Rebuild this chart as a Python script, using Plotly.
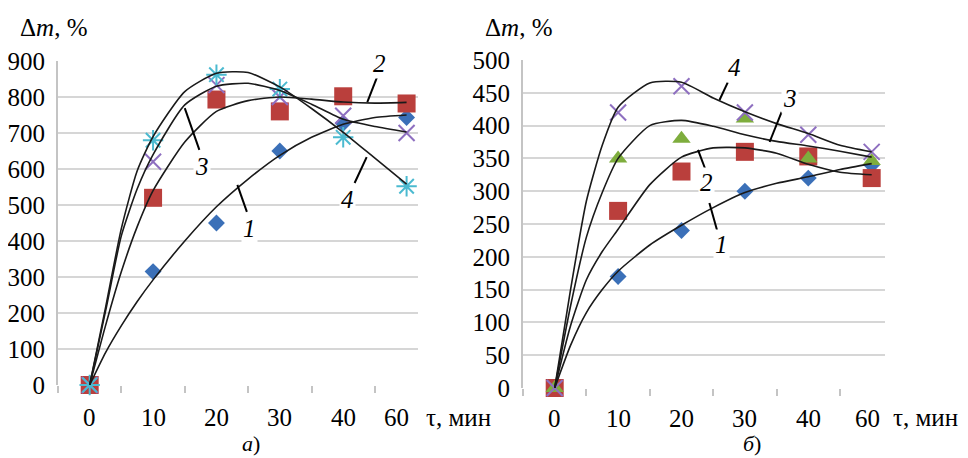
import plotly.graph_objects as go

# ---------------- data ----------------
categories = ["0", "10", "20", "30", "40", "60"]   # τ, мин (categorical axis)
cat_pos = [0, 1, 2, 3, 4, 5]

# chart а)
a_s1 = [0, 315, 450, 650, 727, 743]
a_s2 = [0, 520, 793, 760, 802, 782]
a_s3 = [0, 620, 833, 800, 748, 700]
a_s4 = [0, 680, 862, 822, 688, 552]

# chart б)
b_s1 = [0, 170, 240, 300, 320, 340]
b_s2 = [0, 270, 330, 360, 353, 320]
b_s3 = [0, 350, 380, 411, 350, 346]
b_s4 = [0, 420, 460, 420, 386, 360]

# fitted curves at fractional category positions
curve_x = [0, 0.25, 0.5, 0.75, 1.0, 1.5, 2.0, 2.5, 3.0, 3.5, 4.0, 4.5, 5.0]
a_c1 = [0, 90, 165, 232, 292, 400, 495, 572, 638, 688, 724, 743, 750]
a_c2 = [0, 165, 315, 440, 540, 675, 760, 790, 800, 794, 786, 783, 785]
a_c3 = [0, 205, 415, 545, 640, 778, 830, 838, 818, 780, 738, 718, 703]
a_c4 = [0, 215, 435, 595, 690, 815, 866, 868, 828, 768, 702, 630, 558]

b_c1 = [0, 65, 115, 150, 178, 218, 248, 275, 298, 312, 322, 333, 342]
b_c2 = [0, 95, 165, 208, 242, 310, 352, 366, 366, 358, 341, 329, 325]
b_c3 = [0, 125, 230, 298, 350, 400, 408, 399, 386, 376, 369, 361, 352]
b_c4 = [0, 150, 285, 370, 428, 465, 466, 442, 421, 403, 388, 370, 360]

curve_labels = ["1", "2", "3", "4"]

# ---------------- style ----------------
FONT = "Liberation Serif, Times New Roman, serif"
FS = 25
C_BLUE = "#3B70B8"
C_RED = "#BA3F3C"
C_PURPLE = "#8E6FC0"
C_CYAN = "#4BBAD0"
C_GREEN = "#7EAD3D"
GRID = "#D6D6D6"
AXIS = "#C4C4C4"

# the page body has an 8 px margin: figure starts at (8, 8) of the window
OFF = 8
W, H = 968 - OFF, 458 - OFF

fig = go.Figure()


def markers(x, y, sym, color, size, xa, ya, open_=False):
    m = dict(symbol=sym, size=size, color=color)
    if open_:
        m["line"] = dict(color=color, width=2)
    else:
        m["line"] = dict(width=0)
    fig.add_trace(go.Scatter(x=x, y=y, mode="markers", marker=m, xaxis=xa, yaxis=ya,
                             cliponaxis=False, showlegend=False, hoverinfo="skip"))


def curve(y, xa, ya):
    fig.add_trace(go.Scatter(x=curve_x, y=y, mode="lines",
                             line=dict(color="#1a1a1a", width=1.6, shape="spline", smoothing=0.6),
                             xaxis=xa, yaxis=ya, cliponaxis=False,
                             showlegend=False, hoverinfo="skip"))


# chart а)
markers(cat_pos, a_s1, "diamond", C_BLUE, 13, "x", "y")
markers(cat_pos, a_s2, "square", C_RED, 18, "x", "y")
markers(cat_pos, a_s3, "x-thin-open", C_PURPLE, 16, "x", "y", True)
markers(cat_pos, a_s4, "asterisk-open", C_CYAN, 17, "x", "y", True)
for c in (a_c1, a_c2, a_c3, a_c4):
    curve(c, "x", "y")

# chart б)
markers(cat_pos, b_s1, "diamond", C_BLUE, 13, "x2", "y2")
markers(cat_pos, b_s2, "square", C_RED, 18, "x2", "y2")
markers(cat_pos, b_s3, "triangle-up", C_GREEN, 16, "x2", "y2")
markers(cat_pos, b_s4, "x-thin-open", C_PURPLE, 16, "x2", "y2", True)
for c in (b_c1, b_c2, b_c3, b_c4):
    curve(c, "x2", "y2")


def px_x(p):
    return (p - OFF) / W


def px_y(p):
    return 1 - (p - OFF) / H


def xaxis(dom, rng):
    return dict(domain=dom, range=rng, showgrid=False, zeroline=False,
                showline=False, tickvals=[], ticks="", automargin=False,
                minor=dict(tickvals=[-0.5, 0.5, 1.5, 2.5, 3.5, 4.5], ticks="outside",
                           ticklen=7, tickcolor=AXIS, tickwidth=2, showgrid=False),
                fixedrange=True)


def yaxis(dom, rng, dt, anchor):
    return dict(domain=dom, range=rng, dtick=dt, tick0=0, showgrid=True,
                gridcolor=GRID, gridwidth=2, zeroline=False, showline=True,
                linecolor=AXIS, linewidth=2, ticks="", ticklabelstandoff=6,
                automargin=False,
                tickfont=dict(family=FONT, size=FS, color="black"), anchor=anchor,
                fixedrange=True)


fig.update_layout(
    width=W, height=H, margin=dict(l=0, r=0, t=0, b=0, pad=0, autoexpand=False),
    paper_bgcolor="white", plot_bgcolor="white", showlegend=False,
    xaxis=dict(xaxis([px_x(58), px_x(418)], [-0.5, 5.18]), anchor="y"),
    yaxis=yaxis([px_y(385), px_y(61)], [0, 900], 100, "x"),
    xaxis2=dict(xaxis([px_x(523), px_x(885)], [-0.5, 5.21]), anchor="y2"),
    yaxis2=yaxis([px_y(388), px_y(60)], [0, 500], 50, "x2"),
)

ann = []
# x category labels
for xa, ypix, shifts in (("x", 417, [0, 0, 0, 0, 0, -10]), ("x2", 418, [0, 0, 0, 0, 0, -4])):
    for i, lab in enumerate(categories):
        ann.append(dict(x=cat_pos[i], y=px_y(ypix), xref=xa, yref="paper", text=lab,
                        showarrow=False, xanchor="center", yanchor="middle", xshift=shifts[i],
                        font=dict(family=FONT, size=FS, color="black")))
# axis titles
for xp in (424, 891):
    ann.append(dict(x=px_x(xp), y=px_y(417), xref="paper", yref="paper", text="τ, мин",
                    showarrow=False, xanchor="left", yanchor="middle",
                    font=dict(family=FONT, size=FS, color="black")))
for xp in (18, 483):
    ann.append(dict(x=px_x(xp), y=px_y(28), xref="paper", yref="paper",
                    text="Δ<i>m</i>, %", showarrow=False, xanchor="left", yanchor="middle",
                    font=dict(family=FONT, size=FS, color="black")))
for xp, t in ((251, "<i>а</i>)"), (752, "<i>б</i>)")):
    ann.append(dict(x=px_x(xp), y=0, xref="paper", yref="paper", text=t,
                    showarrow=False, xanchor="center", yanchor="bottom",
                    font=dict(family=FONT, size=FS - 3, color="black")))

# curve number labels with leader lines (label pos, leader start, leader end)
a_lab = {"1": ((2.52, 436), (2.33, 556), (2.48, 481)),
         "2": ((4.57, 894), (4.38, 786), (4.54, 858)),
         "3": ((1.77, 606), (1.50, 769), (1.73, 653)),
         "4": ((4.07, 514), (4.37, 633), (4.18, 561))}
b_lab = {"1": ((2.63, 218), (2.44, 282), (2.56, 241)),
         "2": ((2.40, 314), (2.26, 363), (2.37, 335)),
         "3": ((3.71, 442), (3.39, 375), (3.58, 421)),
         "4": ((2.84, 488), (2.60, 439), (2.73, 466))}
for xa, ya, labs in (("x", "y", a_lab), ("x2", "y2", b_lab)):
    for k in curve_labels:
        (lx, ly), (sx, sy), (ex, ey) = labs[k]
        fig.add_shape(type="line", xref=xa, yref=ya, x0=sx, y0=sy, x1=ex, y1=ey,
                      line=dict(color="black", width=2))
        ann.append(dict(x=lx, y=ly, xref=xa, yref=ya, text="<i>%s</i>" % k, showarrow=False,
                        xanchor="center", yanchor="middle", bgcolor="white", borderpad=1,
                        font=dict(family=FONT, size=FS, color="black")))

fig.update_layout(annotations=ann)
fig.write_html("out.html")
